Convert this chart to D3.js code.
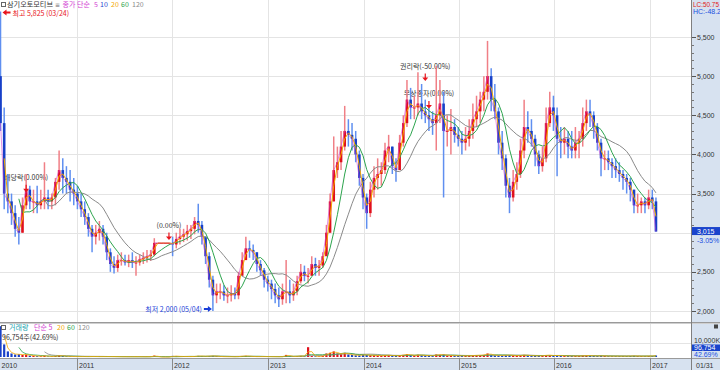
<!DOCTYPE html>
<html><head><meta charset="utf-8">
<script src="https://cdn.jsdelivr.net/npm/d3@7"></script>
<style>
html,body{margin:0;padding:0;background:#fff;}
svg{display:block;font-family:"Noto Sans CJK KR","Noto Sans",sans-serif;}
.num{font-family:"Liberation Sans",Arial,sans-serif;}
</style></head><body><svg id="c" width="720" height="370"></svg>
<script>
// ---- data (bi-weekly samples) ----
const highs = [5825,4600,3750,3500,3350,3200,3450,3750,3600,3550,
 3600,3550,3900,3550,3500,3700,4050,3950,3850,3800,
 3700,3600,3500,3400,3250,3100,3100,3150,3100,3000,
 2800,2700,2720,2750,2720,2720,2750,2700,2720,2750,
 2780,2780,2930,2870,2870,2870,2870,2950,3000,3050,
 3050,3100,3100,3200,3370,3150,2950,2750,2450,2350,
 2350,2330,2300,2330,2300,2500,2750,2950,2900,2850,
 2750,2650,2550,2450,2400,2350,2300,2350,2650,2400,
 2350,2450,2600,2580,2550,2700,2680,2650,2750,3100,
 3500,4230,4100,4300,4620,4450,4400,4300,4050,3750,
 3500,3650,3850,3950,3900,4150,4250,4100,3950,4250,
 4500,4950,4850,4750,5050,4900,4700,4600,4550,5130,
 4950,4800,4500,4580,4450,4350,4300,4350,4450,4650,
 4750,4800,5000,5450,5100,4900,4600,4300,4000,3700,
 3800,3900,4200,4700,4550,4450,4250,4050,4100,4600,
 4800,4750,4600,4350,4350,4300,4300,4350,4300,4600,
 4700,4700,4550,4400,4200,4050,4050,3950,3950,3900,
 3800,3750,3700,3550,3500,3450,3450,3550,3550,3450];
const lows = [4300,3300,3250,3100,2950,2850,3000,3300,3300,3250,
 3250,3300,3300,3300,3300,3350,3550,3500,3500,3400,
 3350,3300,3200,3100,2950,2750,2850,2900,2850,2650,
 2500,2480,2500,2580,2580,2560,2550,2450,2580,2600,
 2620,2640,2700,2870,2870,2870,2870,2700,2800,2850,
 2880,2900,2920,2980,3000,2850,2600,2300,2000,2100,
 2150,2130,2100,2120,2150,2150,2450,2650,2680,2650,
 2500,2450,2300,2250,2150,2100,2050,2080,2100,2100,
 2130,2200,2350,2380,2350,2450,2450,2450,2550,2700,
 3000,3400,3700,3800,4050,4100,4050,3900,3600,3300,
 3050,3200,3450,3550,3600,3750,3900,3750,3650,3800,
 4100,4350,4450,4450,4500,4450,4400,4300,4250,4050,
 4400,3450,4100,4000,4150,4100,4000,4050,4100,4200,
 4350,4400,4550,4700,4550,4450,4000,3800,3450,3250,
 3400,3550,3700,3950,4150,4100,3850,3750,3780,3900,
 4350,4300,3720,3950,4000,3950,3950,3950,3950,4100,
 4300,4350,4200,4050,3720,3800,3800,3700,3700,3650,
 3550,3500,3400,3250,3250,3250,3250,3300,3300,3015];
const closes = [4400,3500,3400,3250,3050,3000,3350,3550,3400,3400,
 3350,3400,3450,3400,3450,3650,3800,3700,3650,3550,
 3500,3400,3300,3200,3050,2950,3000,3050,2950,2750,
 2600,2550,2650,2650,2620,2650,2620,2620,2660,2680,
 2700,2720,2870,2870,2870,2870,2870,2850,2920,2950,
 2980,3020,3050,3150,3100,2950,2700,2400,2200,2250,
 2250,2200,2200,2230,2200,2450,2650,2800,2780,2750,
 2600,2520,2400,2350,2280,2200,2150,2250,2250,2200,
 2250,2380,2500,2450,2450,2600,2550,2580,2700,3000,
 3400,3800,3900,4100,4300,4250,4200,4000,3700,3450,
 3250,3550,3700,3750,3800,4050,4100,3850,3800,4150,
 4400,4700,4600,4600,4650,4550,4500,4450,4400,4500,
 4650,4300,4300,4350,4250,4200,4150,4200,4300,4450,
 4550,4700,4800,5000,4700,4550,4150,3950,3600,3450,
 3650,3750,4050,4350,4300,4200,4000,3850,3950,4400,
 4600,4500,4200,4150,4200,4100,4050,4150,4200,4400,
 4550,4500,4350,4150,3950,3950,3900,3850,3800,3750,
 3700,3650,3550,3350,3350,3400,3350,3450,3400,3015];
const firstOpen = 5000;
const volumes = [22000,9000,4000,2500,1800,2000,1500,1800,1000,900,
 600,500,900,400,400,700,1000,700,500,400,
 300,300,300,300,300,400,300,300,300,300,
 300,300,200,200,200,200,200,250,200,200,
 200,250,1000,0,0,0,0,800,500,400,
 400,350,300,500,800,600,500,700,800,500,
 300,250,200,200,200,400,700,800,500,300,
 300,300,300,250,250,200,200,300,1500,500,
 400,600,800,500,7000,700,500,400,800,2500,
 3000,4000,2500,2000,3000,1800,1500,1200,1200,1500,
 1500,1200,1200,1000,900,1300,1200,900,800,1100,
 1500,2000,1300,1000,1600,1200,1000,900,900,1800,
 1500,1800,1000,1000,900,800,800,800,900,1100,
 1200,1300,1500,2500,1500,1200,1200,1100,1300,1400,
 1000,900,1100,1500,1000,900,800,800,900,1400,
 1200,1000,1200,800,800,700,700,700,700,1000,
 1000,900,800,700,900,700,600,600,600,600,
 600,600,700,800,600,600,600,700,700,1100];
const priceTicks = [2000,2500,3000,3500,4000,4500,5000,5500];
const yearLabels = ["2010","2011","2012","2013","2014","2015","2016","2017"];
const yearStarts = ["2010-03-13","2011-01-01","2012-01-01","2013-01-01","2014-01-01","2015-01-01","2016-01-01","2017-01-01"];
const maPeriods = [5,10,20,60,120];
const maSamples = [1,1,2,6,13];   // trading-day windows expressed in bi-weekly samples
const maColors = ["#d23cd2","#1f3fd0","#f5a800","#2da44e","#8a8a8a"];
const events = [
  {label:"배당락(0.00%)", idx:7, price:3510},
  {label:"(0.00%)", idx:46, price:2900},
  {label:"권리락(-50.00%)", idx:116, price:4930},
  {label:"무상증자(0.00%)", idx:117, price:4580}
];
const lastPrice = 3015, lastChange = "-3.05%";
const lastVolume = "96,754", lastVolPct = "42.69%";

// ---- scales ----
const svg = d3.select("#c");
const PR = 691;
const parse = d3.timeParse("%Y-%m-%d");
const x = d3.scaleTime().domain([parse("2010-03-13"), parse("2017-06-06")]).range([0, PR]);
const y = d3.scaleLinear().domain([2000, 5500]).range([311, 37]);
const yv = d3.scaleLinear().domain([0, 10000]).range([357, 343]);
const start = parse("2010-03-15");
const dates = closes.map((_, i) => d3.timeDay.offset(start, 14 * i));
const opens = closes.map((c, i) => i === 0 ? firstOpen : closes[i - 1]);
const up = closes.map((c, i) => c >= opens[i]);
const FS = "7px";

// ---- backgrounds ----
svg.append("rect").attr("width", 720).attr("height", 370).attr("fill", "#fff");
svg.append("rect").attr("x", 692).attr("y", 0).attr("width", 28).attr("height", 358).attr("fill", "#d7e2f0");
svg.append("rect").attr("x", 0).attr("y", 358).attr("width", 720).attr("height", 12).attr("fill", "#d7e2f0");

// grid
const grid = svg.append("g").attr("stroke", "#e4e4e4").attr("stroke-width", 1);
grid.selectAll("line.h").data(priceTicks).join("line")
  .attr("x1", 0).attr("x2", PR).attr("y1", d => Math.round(y(d)) + 0.5).attr("y2", d => Math.round(y(d)) + 0.5);
grid.selectAll("line.v").data(yearStarts.slice(1)).join("line")
  .attr("x1", d => Math.round(x(parse(d))) + 0.5).attr("x2", d => Math.round(x(parse(d))) + 0.5)
  .attr("y1", 0).attr("y2", 358);
grid.append("line").attr("x1", 0).attr("x2", PR).attr("y1", Math.round(yv(10000)) + 0.5).attr("y2", Math.round(yv(10000)) + 0.5);

// panel separators
svg.append("line").attr("x1", 0).attr("x2", 720).attr("y1", 322.5).attr("y2", 322.5).attr("stroke", "#9a9a9a");
svg.append("line").attr("x1", 0).attr("x2", 720).attr("y1", 323.5).attr("y2", 323.5).attr("stroke", "#cfcfcf");
svg.append("line").attr("x1", 0).attr("x2", 720).attr("y1", 358.5).attr("y2", 358.5).attr("stroke", "#9a9a9a");
svg.append("line").attr("x1", 691.5).attr("x2", 691.5).attr("y1", 0).attr("y2", 370).attr("stroke", "#7f7f7f");

// ---- annotation texts (under candles) ----
const ann = svg.append("g").attr("font-size", FS).attr("fill", "#333");
events.forEach(e => {
  const ex = x(dates[e.idx]);
  ann.append("text").attr("x", ex).attr("y", y(e.price) - 13).attr("text-anchor", "middle").text(e.label);
});

// ---- candles ----
svg.append("clipPath").attr("id", "cp").append("rect").attr("x", 0).attr("y", 0).attr("width", PR).attr("height", 322);
const pg = svg.append("g").attr("clip-path", "url(#cp)");
pg.selectAll("line.wick").data(closes).join("line")
  .attr("x1", (d, i) => x(dates[i])).attr("x2", (d, i) => x(dates[i]))
  .attr("y1", (d, i) => y(highs[i])).attr("y2", (d, i) => y(lows[i]))
  .attr("stroke", (d, i) => up[i] ? "#f07f86" : "#5f8ff0").attr("stroke-width", 1.5);
pg.selectAll("rect.body").data(closes).join("rect")
  .attr("x", (d, i) => x(dates[i]) - (highs[i] === lows[i] ? 1.9 : 1.3))
  .attr("width", (d, i) => highs[i] === lows[i] ? 3.8 : 2.6)
  .attr("y", (d, i) => y(Math.max(opens[i], closes[i])))
  .attr("height", (d, i) => Math.max(1, Math.abs(y(opens[i]) - y(closes[i]))))
  .attr("fill", (d, i) => up[i] ? "#e0101c" : "#1840c8");

// moving averages
function movingAvg(arr, n) { return arr.map((_, i) => i + 1 < n ? null : d3.mean(arr.slice(i + 1 - n, i + 1))); }
const line = d3.line().defined(d => d.v != null).x(d => x(d.t)).y(d => y(d.v));
[4, 3, 2, 0].forEach(k => {
  const m = movingAvg(closes, maSamples[k]).map((v, i) => ({ t: dates[i], v }));
  pg.append("path").datum(m).attr("d", line).attr("fill", "none")
    .attr("stroke", maColors[k]).attr("stroke-width", k === 0 ? 0.8 : 1).attr("opacity", k === 0 ? 0.7 : 1);
});

// event markers (red down arrows)
events.forEach(e => {
  const ex = x(dates[e.idx]), ey = y(e.price);
  svg.append("path").attr("d", `M${ex - 0.6},${ey - 8}h1.2v4h2.4l-3,3.5l-3,-3.5h2.4z`).attr("fill", "#e8141c");
});

// max / min labels
const iMax = d3.maxIndex(highs), iMin = d3.minIndex(lows);
const mx = x(dates[iMax]) + 2, my = y(highs[iMax]) + 1;
svg.append("path").attr("d", `M${mx},${my}l4,-3v2h4v2h-4v2z`).attr("fill", "#e8141c");
svg.append("text").attr("x", mx + 10).attr("y", my + 3.8).attr("font-size", FS).attr("fill", "#e8141c")
  .text(`최고 ${d3.format(",")(highs[iMax])} (03/24)`);
const nx = x(dates[iMin]) - 1, ny = y(lows[iMin]) - 2;
svg.append("path").attr("d", `M${nx},${ny}l-4,-3v2h-4v2h4v2z`).attr("fill", "#1a3fd8");
svg.append("text").attr("x", nx - 10).attr("y", ny + 3).attr("text-anchor", "end").attr("font-size", FS).attr("fill", "#1a3fd8")
  .text(`최저 ${d3.format(",")(lows[iMin])} (05/04)`);

// ---- volume ----
const vg = svg.append("g");
vg.selectAll("rect").data(volumes).join("rect")
  .attr("x", (d, i) => x(dates[i]) - 1.1).attr("width", 2.2)
  .attr("y", d => yv(d)).attr("height", d => 357 - yv(d))
  .attr("fill", (d, i) => up[i] ? "#e0101c" : "#1840c8");
const vline = d3.line().defined(d => d.v != null).x(d => x(d.t)).y(d => yv(d.v));
[[13, "#8a8a8a"], [6, "#2da44e"], [2, "#f5a800"]].forEach(([n, c]) => {
  const m = movingAvg(volumes, n).map((v, i) => ({ t: dates[i], v }));
  vg.append("path").datum(m).attr("d", vline).attr("fill", "none").attr("stroke", c).attr("stroke-width", 0.8);
});

// ---- legends ----
const lg = svg.append("g").attr("font-size", FS);
lg.append("rect").attr("x", 1.5).attr("y", 2.5).attr("width", 4).attr("height", 4).attr("fill", "none").attr("stroke", "#666");
lg.append("text").attr("x", 7).attr("y", 7.3).attr("fill", "#333")
  .attr("textLength", 46).attr("lengthAdjust", "spacingAndGlyphs").text("삼기오토모티브");
lg.append("text").attr("x", 55).attr("y", 7.3).attr("fill", "#666")
  .style("font-family", "'DejaVu Sans',sans-serif").style("font-size", "6px").text("≡");
lg.append("text").attr("x", 62.5).attr("y", 7.3).attr("fill", "#d23cd2").text("종가 단순");
const legItems = [["5", 94], ["10", 100], ["20", 111], ["60", 121], ["120", 132]];
legItems.forEach(([t, lx], k) => lg.append("text").attr("x", lx).attr("y", 7.3).attr("fill", maColors[k]).text(t));

lg.append("rect").attr("x", 1.5).attr("y", 325.5).attr("width", 4).attr("height", 4).attr("fill", "none").attr("stroke", "#666");
lg.append("text").attr("x", 9).attr("y", 329.8).attr("fill", "#1aa3b0").text("거래량");
lg.append("text").attr("x", 34).attr("y", 329.8).attr("fill", "#d23cd2").text("단순 5");
[["20", 57, "#f5a800"], ["60", 67, "#2da44e"], ["120", 78, "#8a8a8a"]].forEach(([t, lx, c]) =>
  lg.append("text").attr("x", lx).attr("y", 329.8).attr("fill", c).text(t));
lg.append("text").attr("x", 2).attr("y", 339.8).attr("fill", "#333").text(`${lastVolume}주(${lastVolPct})`);

// ---- right axis ----
const ax = svg.append("g").attr("font-size", FS).attr("fill", "#333").attr("class", "num");
ax.selectAll("line.minor").data(d3.range(2000, 5600, 100)).join("line")
  .attr("x1", 692).attr("x2", 694).attr("y1", d => Math.round(y(d)) + 0.5).attr("y2", d => Math.round(y(d)) + 0.5)
  .attr("stroke", "#777");
ax.selectAll("line.major").data(priceTicks).join("line")
  .attr("x1", 692).attr("x2", 696).attr("y1", d => Math.round(y(d)) + 0.5).attr("y2", d => Math.round(y(d)) + 0.5)
  .attr("stroke", "#555");
ax.selectAll("text.t").data(priceTicks).join("text")
  .attr("x", 697).attr("y", d => y(d) + 2.5).text(d => d3.format(",")(d));
ax.append("text").attr("x", 693).attr("y", 7).attr("fill", "#e02020")
  .attr("textLength", 26).attr("lengthAdjust", "spacingAndGlyphs").text("LC:50.75");
ax.append("text").attr("x", 693).attr("y", 14).attr("fill", "#2050e0").text("HC:-48.2");
ax.append("rect").attr("x", 692).attr("y", y(lastPrice) - 4.5).attr("width", 28).attr("height", 8).attr("fill", "#1a44cc");
ax.append("text").attr("x", 697).attr("y", y(lastPrice) + 2.3).attr("fill", "#fff").text(d3.format(",")(lastPrice));
ax.append("text").attr("x", 697).attr("y", y(lastPrice) + 11).attr("fill", "#2050e0").text(lastChange);
// volume axis
ax.append("rect").attr("x", 714).attr("y", 324.5).attr("width", 4).attr("height", 4).attr("fill", "#444");
ax.append("text").attr("x", 694).attr("y", 342.5).text("10,000K");
ax.append("rect").attr("x", 692).attr("y", 344.5).attr("width", 28).attr("height", 6.5).attr("fill", "#1a44cc");
ax.append("text").attr("x", 694).attr("y", 350.3).attr("fill", "#fff").text(lastVolume);
ax.append("text").attr("x", 694).attr("y", 357.3).attr("fill", "#2050e0").text(lastVolPct);

// ---- x axis band ----
const xb = svg.append("g").attr("font-size", FS).attr("fill", "#333").attr("class", "num");
yearStarts.forEach((d, k) => {
  const px = k === 0 ? 0 : Math.round(x(parse(d))) + 0.5;
  if (k > 0) xb.append("line").attr("x1", px).attr("x2", px).attr("y1", 358).attr("y2", 370).attr("stroke", "#8a8a8a");
  xb.append("text").attr("x", px + 1.5).attr("y", 367.5).text(yearLabels[k]);
});
xb.append("text").attr("x", 696).attr("y", 367.5).text("01/31");
</script></body></html>
